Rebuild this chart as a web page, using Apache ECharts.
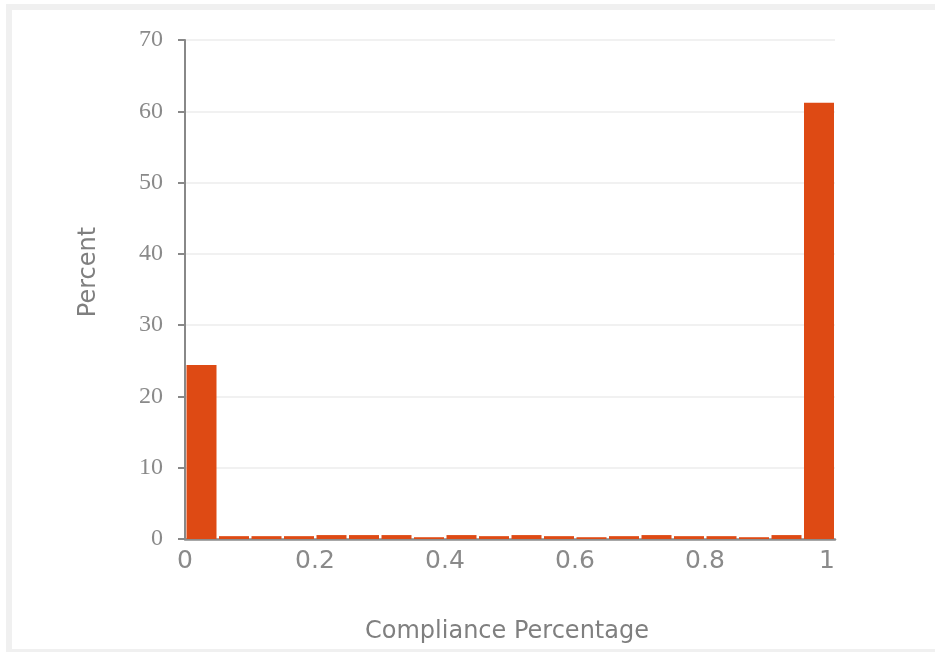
<!DOCTYPE html>
<html>
<head>
<meta charset="utf-8">
<script src="https://cdn.jsdelivr.net/npm/echarts@6/dist/echarts.min.js"></script>
<style>
  html, body { margin: 0; padding: 0; background: #ffffff; overflow: hidden; width: 935px; height: 652px; }
  .band { position: absolute; background: #f0f0f0; }
  #chart { position: absolute; left: 0; top: 0; width: 935px; height: 652px; }
</style>
</head>
<body>
<div class="band" style="left:6px; top:4px; width:6px; height:648px;"></div>
<div class="band" style="left:6px; top:4px; width:929px; height:6px;"></div>
<div class="band" style="left:6px; top:649px; width:929px; height:3px;"></div>
<div id="chart"></div>
<script>
// Histogram bins (compliance share) and percent of cases per bin
const binLower = [0, 0.05, 0.1, 0.15, 0.2, 0.25, 0.3, 0.35, 0.4, 0.45, 0.5, 0.55, 0.6, 0.65, 0.7, 0.75, 0.8, 0.85, 0.9, 0.95];
const binUpper = [0.05, 0.1, 0.15, 0.2, 0.25, 0.3, 0.35, 0.4, 0.45, 0.5, 0.55, 0.6, 0.65, 0.7, 0.75, 0.8, 0.85, 0.9, 0.95, 1];
const percent  = [24.4, 0.4, 0.4, 0.4, 0.55, 0.55, 0.55, 0.25, 0.55, 0.4, 0.55, 0.4, 0.25, 0.4, 0.55, 0.4, 0.4, 0.25, 0.55, 61.2];
const xAxisTitle = 'Compliance Percentage';
const yAxisTitle = 'Percent';

const data = binLower.map((lo, i) => [lo, binUpper[i], percent[i]]);

const chart = echarts.init(document.getElementById('chart'), null, { renderer: 'canvas' });
chart.setOption({
  backgroundColor: 'transparent',
  animation: false,
  grid: { left: 185, right: 100, top: 40, bottom: 113 },
  graphic: [{
    type: 'text', x: 89, y: 272, rotation: Math.PI / 2,
    style: { text: yAxisTitle, fontFamily: 'DejaVu Sans', fontSize: 24, fill: '#7f7f7f',
             textAlign: 'center', textVerticalAlign: 'middle' }
  }],
  xAxis: {
    type: 'value', min: 0, max: 1, interval: 0.2,
    name: xAxisTitle, nameLocation: 'middle', nameGap: 81,
    nameTextStyle: { fontFamily: 'DejaVu Sans', fontSize: 24, color: '#7f7f7f', padding: [0, 6, 0, 0] },
    axisLine: { show: true, lineStyle: { color: '#8c8c8c', width: 2.5 } },
    axisTick: { show: false },
    splitLine: { show: false },
    axisLabel: { fontFamily: 'DejaVu Sans', fontSize: 25, color: '#8a8a8a', margin: 10, alignMaxLabel: 'right' }
  },
  yAxis: {
    type: 'value', min: 0, max: 70, interval: 10,
    axisLine: { show: true, lineStyle: { color: '#888888', width: 2 } },
    axisTick: { show: true, inside: false, length: 7, lineStyle: { color: '#888888', width: 2 } },
    splitLine: { show: true, lineStyle: { color: '#ececec', width: 1.5 } },
    axisLabel: { fontFamily: 'Liberation Serif', fontSize: 24, color: '#8a8a8a', margin: 22 }
  },
  series: [{
    type: 'custom',
    data: data,
    encode: { x: [0, 1], y: 2 },
    renderItem: function (params, api) {
      const top = api.coord([api.value(0), api.value(2)]);
      const bot = api.coord([api.value(1), 0]);
      return {
        type: 'rect',
        shape: { x: top[0] + 1.5, y: top[1], width: bot[0] - top[0] - 2.5, height: bot[1] - top[1] },
        style: { fill: '#de4a14' }
      };
    }
  }]
});
</script>
</body>
</html>
